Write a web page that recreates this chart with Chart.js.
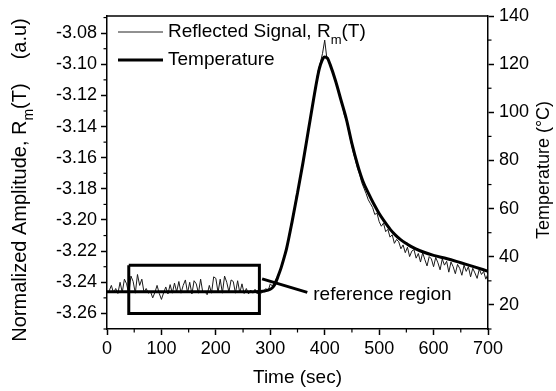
<!DOCTYPE html>
<html><head><meta charset="utf-8">
<script src="https://cdn.jsdelivr.net/npm/chart.js@4.4.0/dist/chart.umd.min.js"></script>
<style>html,body{margin:0;padding:0;background:#fff}canvas{display:block}</style>
</head><body>
<canvas id="c" width="556" height="391"></canvas>
<script>
// ---- data ----
const SAMPLE_STEP = 4; // seconds between reflected-signal samples (0 .. 700 s)
const signalValues = [
 -3.2470,-3.2455,-3.2420,-3.2468,-3.2440,-3.2472,-3.2400,-3.2465,-3.2380,-3.2410,
 -3.2475,-3.2360,-3.2395,-3.2470,-3.2350,-3.2420,-3.2380,-3.2465,-3.2440,-3.2470,
 -3.2460,-3.2500,-3.2465,-3.2420,-3.2472,-3.2510,-3.2468,-3.2430,-3.2475,-3.2415,
 -3.2470,-3.2405,-3.2462,-3.2395,-3.2470,-3.2420,-3.2385,-3.2468,-3.2400,-3.2475,
 -3.2390,-3.2410,-3.2470,-3.2380,-3.2465,-3.2460,-3.2480,-3.2420,-3.2470,-3.2365,
 -3.2375,-3.2465,-3.2380,-3.2470,-3.2360,-3.2400,-3.2462,-3.2385,-3.2395,-3.2470,
 -3.2390,-3.2468,-3.2410,-3.2472,-3.2440,-3.2475,-3.2450,-3.2470,-3.2445,-3.2475,
 -3.2460,-3.2470,-3.2455,
 -3.2440,-3.2455,-3.2410,-3.2425,-3.2395,-3.2370,-3.2340,-3.2300,-3.2250,-3.2200,
 -3.2150,-3.2070,-3.2000,-3.1935,-3.1840,-3.1790,-3.1700,-3.1640,-3.1545,-3.1480,
 -3.1375,-3.1300,-3.1205,-3.1125,-3.1040,-3.0990,-3.0930,-3.0845,-3.0965,
 -3.0985,-3.1025,-3.1060,-3.1115,-3.1150,-3.1215,-3.1260,-3.1325,-3.1365,-3.1430,
 -3.1495,-3.1560,-3.1610,-3.1665,-3.1705,-3.1760,-3.1795,-3.1830,-3.1870,-3.1895,
 -3.1920,-3.1965,-3.1955,-3.2010,-3.2040,-3.2020,-3.2075,-3.2060,-3.2110,-3.2095,
 -3.2150,-3.2125,-3.2140,-3.2185,-3.2160,-3.2210,-3.2175,-3.2235,-3.2200,-3.2190,
 -3.2245,-3.2215,-3.2270,-3.2210,-3.2255,-3.2295,-3.2235,-3.2250,-3.2300,-3.2240,
 -3.2275,-3.2320,-3.2250,-3.2290,-3.2265,-3.2335,-3.2270,-3.2300,-3.2345,-3.2285,
 -3.2310,-3.2355,-3.2290,-3.2330,-3.2300,-3.2365,-3.2310,-3.2340,-3.2375,-3.2315,
 -3.2350,-3.2330,-3.2380,-3.2345
];
const tempTimes  = [0,50,100,150,200,250,280,290,300,305,310,315,320,325,330,340,350,360,370,380,385,390,395,400,405,410,420,430,440,450,460,470,480,490,500,510,520,530,540,550,560,575,600,625,650,675,700];
const tempValues = [25.5,25.5,25.5,25.5,25.5,25.5,25.6,25.8,26.5,27.4,29.3,32.3,35.5,39.3,43.5,54.5,66.5,79,92.5,106,112.5,118,121.5,123,122.5,119.8,113,105,97,87,78.5,71.5,66.5,62,58,54.6,51.5,49,47,45.5,44.1,42.5,40.6,39.2,37.5,35.8,34];
const refRegionTimes = [40, 280];
const refRegionAmps  = [-3.229, -3.260];
const pointerTimes = [285, 368];
const pointerAmps  = [-3.2378, -3.2465];
const seriesLabels = ['Reflected Signal, R', 'Temperature'];
const annotationText = 'reference region';

// ---- build datasets ----
const signalData = signalValues.map((v, i) => ({x: i * SAMPLE_STEP, y: v}));
const tempData = tempTimes.map((t, i) => ({x: t, y: tempValues[i]}));
const boxData = [
  {x: refRegionTimes[0], y: refRegionAmps[0]}, {x: refRegionTimes[1], y: refRegionAmps[0]},
  {x: refRegionTimes[1], y: refRegionAmps[1]}, {x: refRegionTimes[0], y: refRegionAmps[1]},
  {x: refRegionTimes[0], y: refRegionAmps[0]}
];
const pointerData = pointerTimes.map((t, i) => ({x: t, y: pointerAmps[i]}));

const FONT = '"Liberation Sans", Arial, Helvetica, sans-serif';

function richText(ctx, parts, x, y, size) {
  let cx = x;
  for (const p of parts) {
    ctx.font = (p.sub ? Math.round(size * 0.68) : size) + 'px ' + FONT;
    ctx.fillText(p.t, cx, y + (p.sub ? size * 0.42 : 0));
    cx += ctx.measureText(p.t).width;
  }
  return cx - x;
}
function richWidth(ctx, parts, size) {
  let w = 0;
  for (const p of parts) {
    ctx.font = (p.sub ? Math.round(size * 0.68) : size) + 'px ' + FONT;
    w += ctx.measureText(p.t).width;
  }
  return w;
}

const decor = {
  id: 'decor',
  afterDraw(chart) {
    const {ctx, chartArea: a, scales: {x, y, y2}} = chart;
    ctx.save();
    ctx.strokeStyle = '#000'; ctx.fillStyle = '#000';
    ctx.lineWidth = 1.5;
    ctx.beginPath(); ctx.moveTo(a.left, a.top); ctx.lineTo(a.right, a.top); ctx.stroke();
    // minor ticks
    ctx.lineWidth = 1.2;
    for (let k = -327; k <= -307; k++) {
      if (k % 2 !== 0) { const p = y.getPixelForValue(k / 100); ctx.beginPath(); ctx.moveTo(a.left - 3.5, p); ctx.lineTo(a.left, p); ctx.stroke(); }
    }
    for (let k = 10; k <= 130; k += 20) {
      const p = y2.getPixelForValue(k); ctx.beginPath(); ctx.moveTo(a.right, p); ctx.lineTo(a.right + 3.5, p); ctx.stroke();
    }
    for (let k = 50; k <= 650; k += 100) {
      const p = x.getPixelForValue(k); ctx.beginPath(); ctx.moveTo(p, a.bottom); ctx.lineTo(p, a.bottom + 3.5); ctx.stroke();
    }
    // legend
    ctx.textBaseline = 'middle'; ctx.textAlign = 'left';
    const lx0 = a.left + 11, lx1 = a.left + 56, tx = a.left + 61;
    ctx.lineWidth = 1; ctx.strokeStyle = '#222';
    ctx.beginPath(); ctx.moveTo(lx0, 32); ctx.lineTo(lx1, 32); ctx.stroke();
    richText(ctx, [{t: seriesLabels[0]}, {t: 'm', sub: true}, {t: '(T)'}], tx, 32, 19);
    ctx.lineWidth = 3; ctx.strokeStyle = '#000';
    ctx.beginPath(); ctx.moveTo(lx0, 60); ctx.lineTo(lx1, 60); ctx.stroke();
    ctx.font = '19px ' + FONT;
    ctx.fillText(seriesLabels[1], tx, 60);
    // annotation label
    const ex = x.getPixelForValue(pointerTimes[1]), ey = y.getPixelForValue(pointerAmps[1]);
    ctx.font = '19px ' + FONT;
    ctx.fillText(annotationText, ex + 6, ey + 2);
    // x title
    ctx.textAlign = 'center';
    ctx.fillText('Time (sec)', (a.left + a.right) / 2, 378);
    // right title
    ctx.save();
    ctx.translate(544, 170); ctx.rotate(-Math.PI / 2);
    ctx.font = '18px ' + FONT;
    ctx.fillText('Temperature (\u00B0C)', 0, 0);
    ctx.restore();
    // left title
    ctx.save();
    ctx.translate(20.5, 180); ctx.rotate(-Math.PI / 2);
    ctx.textAlign = 'left';
    const parts = [{t: 'Normalized Amplitude, R'}, {t: 'm', sub: true}, {t: '(T)'}];
    const w1 = richWidth(ctx, parts, 20);
    ctx.font = '20px ' + FONT;
    const gap = 24, w2 = ctx.measureText('(a.u)').width;
    const start = -(w1 + gap + w2) / 2;
    richText(ctx, parts, start, 0, 20);
    ctx.font = '20px ' + FONT;
    ctx.fillText('(a.u)', start + w1 + gap, 0);
    ctx.restore();
    ctx.restore();
  }
};

const tickFont = {family: FONT, size: 18};
new Chart(document.getElementById('c'), {
  type: 'line',
  data: {
    datasets: [
      {data: signalData, yAxisID: 'y', borderColor: '#1a1a1a', borderWidth: 1, pointRadius: 0, tension: 0, order: 2},
      {data: tempData, yAxisID: 'y2', borderColor: '#000', borderWidth: 3, pointRadius: 0, cubicInterpolationMode: 'monotone', order: 1},
      {data: boxData, yAxisID: 'y', borderColor: '#000', borderWidth: 3, pointRadius: 0, tension: 0, order: 0},
      {data: pointerData, yAxisID: 'y', borderColor: '#000', borderWidth: 3, pointRadius: 0, tension: 0, order: 0}
    ]
  },
  options: {
    responsive: false, animation: false, devicePixelRatio: 1,
    layout: {padding: {top: 16, left: 0, right: 0, bottom: 0}},
    plugins: {legend: {display: false}, tooltip: {enabled: false}},
    scales: {
      x: {type: 'linear', position: 'bottom', min: 0, max: 700,
        ticks: {stepSize: 100, includeBounds: false, font: tickFont, color: '#000', padding: 3, maxRotation: 0},
        grid: {drawOnChartArea: false, tickLength: 6, tickColor: '#000', tickWidth: 1.5, color: '#000'},
        border: {color: '#000', width: 1.5},
        afterFit: s => { s.height = 62; }},
      y: {type: 'linear', position: 'left', min: -3.27, max: -3.069,
        ticks: {stepSize: 0.02, includeBounds: false, font: tickFont, color: '#000', padding: 4, callback: v => v.toFixed(2)},
        grid: {drawOnChartArea: false, tickLength: 6, tickColor: '#000', tickWidth: 1.5, color: '#000'},
        border: {color: '#000', width: 1.5},
        afterFit: s => { s.width = 107; }},
      y2: {type: 'linear', position: 'right', min: 10, max: 140,
        ticks: {stepSize: 20, includeBounds: false, font: tickFont, color: '#000', padding: 5},
        grid: {drawOnChartArea: false, tickLength: 6, tickColor: '#000', tickWidth: 1.5, color: '#000'},
        border: {color: '#000', width: 1.5},
        afterFit: s => { s.width = 68; }}
    }
  },
  plugins: [decor]
});
</script>
</body></html>
